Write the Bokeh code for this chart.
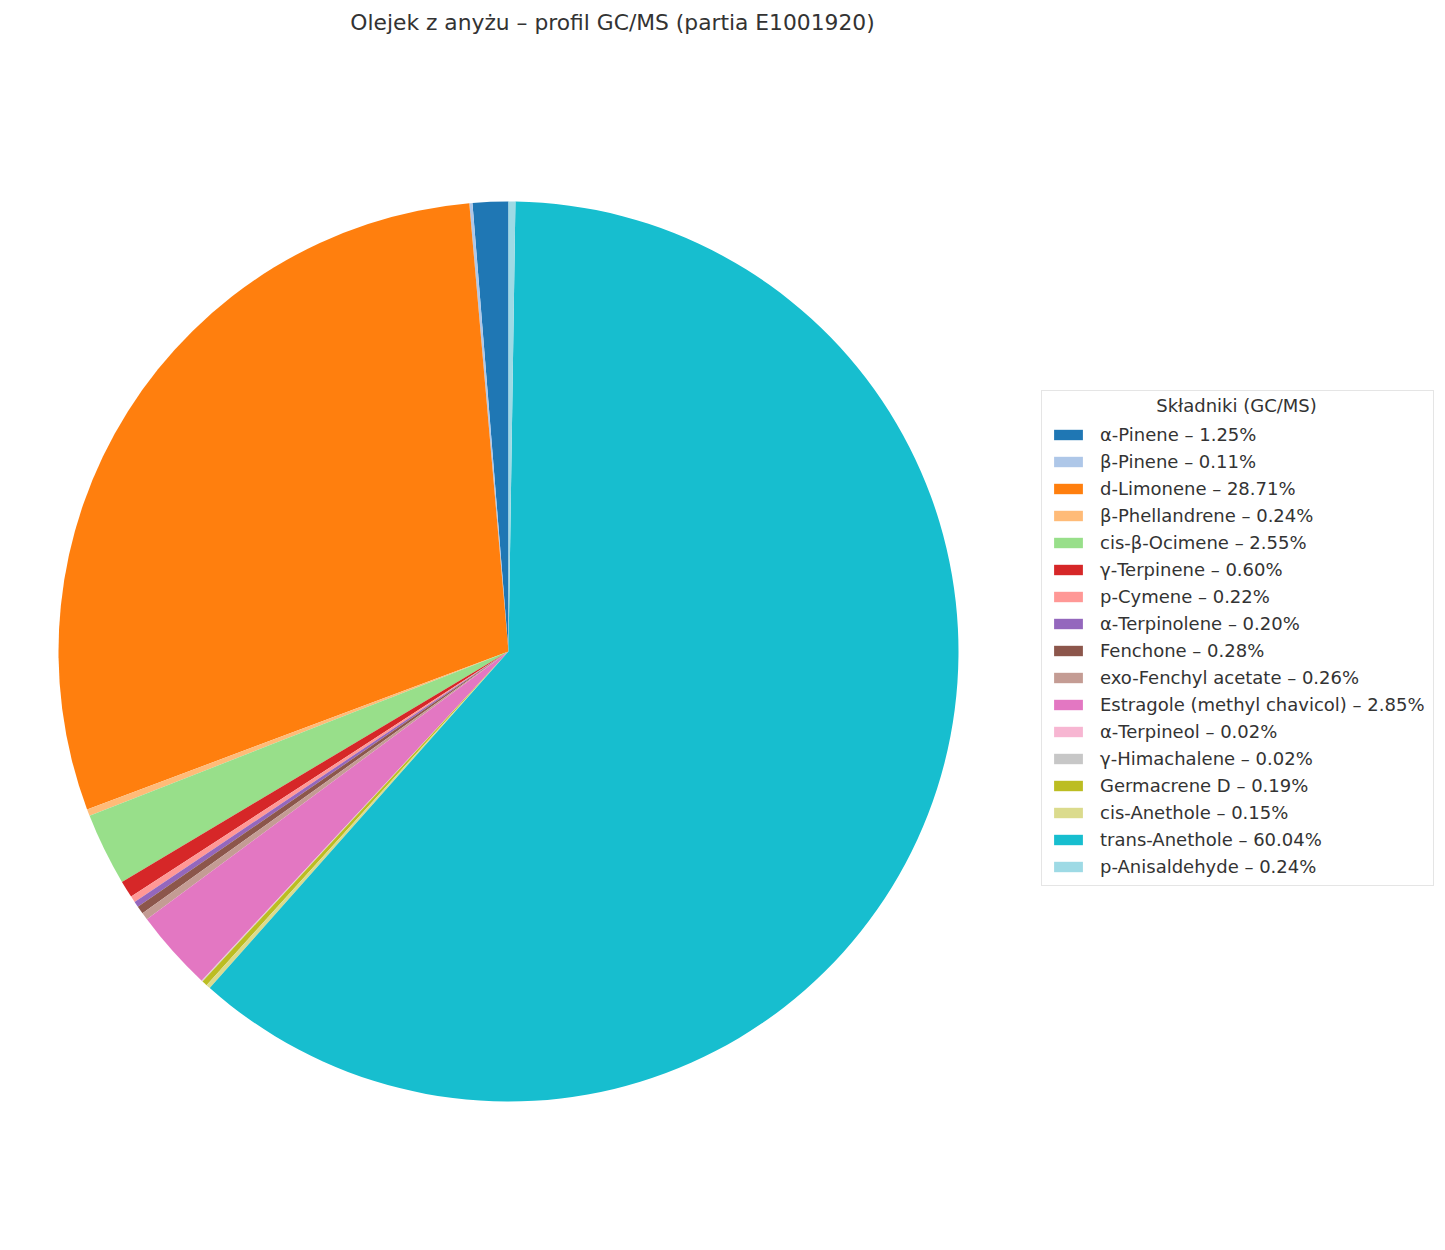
import math
from bokeh.plotting import figure
from bokeh.models import Range1d, Legend, LegendItem, Label, ColumnDataSource
from bokeh.embed import file_html
from bokeh.resources import INLINE

components = ["α-Pinene", "β-Pinene", "d-Limonene", "β-Phellandrene", "cis-β-Ocimene",
              "γ-Terpinene", "p-Cymene", "α-Terpinolene", "Fenchone", "exo-Fenchyl acetate",
              "Estragole (methyl chavicol)", "α-Terpineol", "γ-Himachalene", "Germacrene D",
              "cis-Anethole", "trans-Anethole", "p-Anisaldehyde"]
percent = [1.25, 0.11, 28.71, 0.24, 2.55, 0.60, 0.22, 0.20, 0.28, 0.26, 2.85, 0.02, 0.02,
           0.19, 0.15, 60.04, 0.24]
colors = ["#1f77b4", "#aec7e8", "#ff7f0e", "#ffbb78", "#98df8a", "#d62728", "#ff9896",
          "#9467bd", "#8c564b", "#c49c94", "#e377c2", "#f7b6d2", "#c7c7c7", "#bcbd22",
          "#dbdb8d", "#17becf", "#9edae5"]
legend_title = "Składniki (GC/MS)"
chart_title = "Olejek z anyżu – profil GC/MS (partia E1001920)"

W, H = 1440, 1245
CX, CY, R = 508, H - 651, 450

total = sum(percent)
starts, ends = [], []
a = math.pi / 2
for v in percent:
    starts.append(a)
    a += 2 * math.pi * v / total
    ends.append(a)

p = figure(width=W, height=H, output_backend="svg", toolbar_location=None,
           x_range=Range1d(0, W), y_range=Range1d(0, H), min_border=0)
p.axis.visible = False
p.grid.visible = False
p.outline_line_color = None
p.background_fill_color = "white"

items = []
for i, name in enumerate(components):
    src = ColumnDataSource(dict(x=[CX], y=[CY], s=[starts[i]], e=[ends[i]]))
    r = p.wedge(x="x", y="y", radius=R, start_angle="s", end_angle="e", direction="anticlock",
                fill_color=colors[i], line_color=None, source=src)
    items.append(LegendItem(label=f"{name} – {percent[i]:.2f}%", renderers=[r]))

legend = Legend(items=items, location=(1041, H - 886), title=legend_title,
                title_text_font="DejaVu Sans", title_text_font_size="18px",
                title_text_alpha=0.0, title_text_font_style="normal",
                label_text_font="DejaVu Sans", label_text_font_size="18px",
                label_text_color="#333333", glyph_width=36, glyph_height=13,
                label_height=21, spacing=6, padding=8, margin=0,
                label_standoff=14, border_line_color="#cccccc", border_line_width=1.5,
                background_fill_alpha=0.0, title_standoff=4)
p.add_layout(legend, "center")

ltitle = Label(x=1236, y=H - 405, x_units="screen", y_units="screen",
               text=legend_title, text_font="DejaVu Sans", text_font_size="18px",
               text_color="#333333", text_align="center", text_baseline="middle")
p.add_layout(ltitle)

title = Label(x=612, y=H - 22, x_units="screen", y_units="screen",
              text=chart_title,
              text_font="DejaVu Sans", text_font_size="21.8px", text_color="#333333",
              text_align="center", text_baseline="middle")
p.add_layout(title)

open("out.html", "w").write(file_html(p, INLINE))
